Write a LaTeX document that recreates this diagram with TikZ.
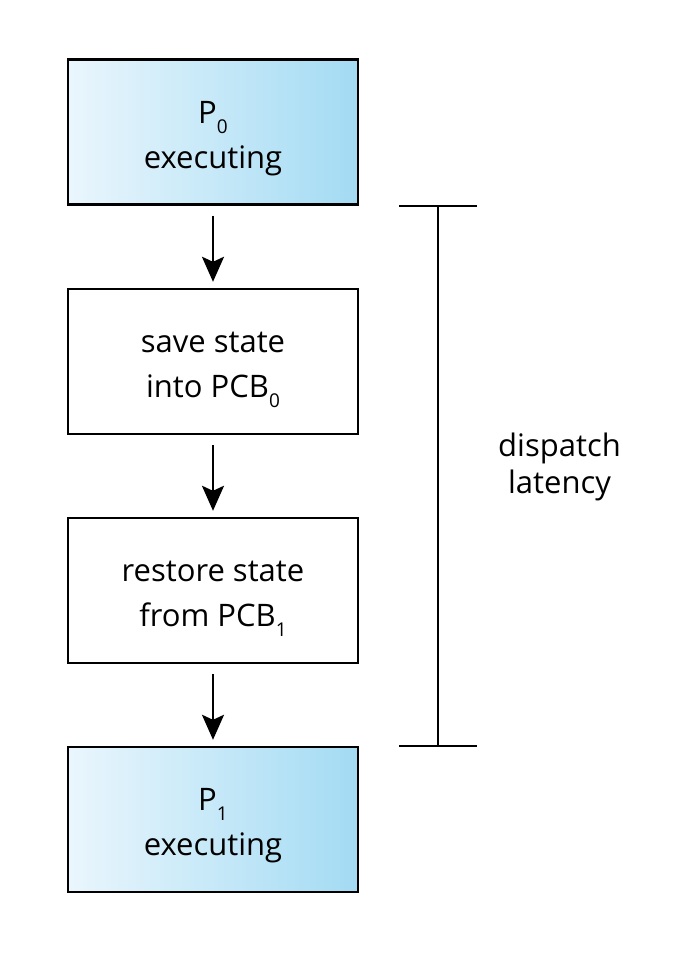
\documentclass[tikz,border=0pt]{standalone}
\usepackage{fontspec}
\setmainfont{Open Sans}
\usetikzlibrary{arrows.meta}
\newcommand\subidx[1]{\raisebox{-10pt}{\fontsize{19}{19}\selectfont #1}}
\definecolor{gradL}{HTML}{EAF6FD}
\definecolor{gradR}{HTML}{A3DBF3}
\tikzset{
  procbox/.style={draw=black, line width=2.4pt, minimum width=290pt, minimum height=145pt,
    align=center, font=\fontsize{31}{45}\selectfont, inner sep=0pt,
    text height=80pt, text depth=8pt},
  runbox/.style={procbox, left color=gradL, right color=gradR},
  flow/.style={line width=2.2pt, -{Stealth[length=25pt,width=22pt,inset=5pt]},
    shorten <=10pt, shorten >=6pt},
  bar/.style={line width=2.4pt}
}
\begin{document}
\begin{tikzpicture}[x=1pt,y=-1pt]
\useasboundingbox (0,0) rectangle (673,961);
\node[runbox] (p0) at (213,132) {P\subidx{0}\\executing};
\node[procbox] (save) at (213,361.5) {save state\\into PCB\subidx{0}};
\node[procbox] (rest) at (213,590.5) {restore state\\from PCB\subidx{1}};
\node[runbox] (p1) at (213,819.5) {P\subidx{1}\\executing};
\draw[flow] (p0) -- (save);
\draw[flow] (save) -- (rest);
\draw[flow] (rest) -- (p1);
\coordinate (ta) at (399,206);
\coordinate (tb) at (477,206);
\coordinate (ba) at (399,746);
\coordinate (bb) at (477,746);
\coordinate (tm) at (438,206);
\coordinate (bm) at (438,746);
\draw[bar] (ta) -- (tb);
\draw[bar] (ba) -- (bb);
\draw[bar] (tm) -- (bm);
\node[align=center, anchor=base, inner sep=0pt, font=\fontsize{31}{37}\selectfont] (lat) at (559.5,493) {dispatch\\latency};
\end{tikzpicture}
\end{document}
